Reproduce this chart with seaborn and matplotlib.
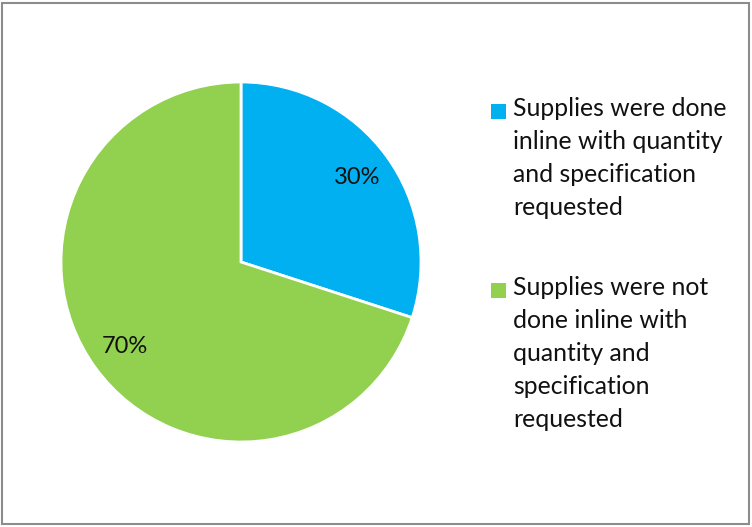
import matplotlib
matplotlib.use("Agg")
import matplotlib.pyplot as plt
from matplotlib.patches import Rectangle
import seaborn as sns

sns.set_theme(style="white")
plt.rcParams['font.family'] = ['Lato', 'DejaVu Sans']

# data
labels = ['Supplies were done\ninline with quantity\nand specification\nrequested',
          'Supplies were not\ndone inline with\nquantity and\nspecification\nrequested']
shares = [30, 70]
colors = ['#00B0F0', '#92D050']

W, H = 752, 527
fig = plt.figure(figsize=(W / 100, H / 100), dpi=100)
fig.patch.set_facecolor('white')

# pie: centre (241, 262) px, radius 180 px
cx, cy, r = 241, 262, 180
ax = fig.add_axes([(cx - r) / W, (H - cy - r) / H, 2 * r / W, 2 * r / H])
wedges, texts, autotexts = ax.pie(
    shares, colors=colors, startangle=90, counterclock=False,
    autopct='%1.0f%%', pctdistance=0.8,
    wedgeprops=dict(edgecolor='white', linewidth=2),
    textprops=dict(fontsize=17, color='#111111'))
ax.set_xlim(-1, 1)
ax.set_ylim(-1, 1)
ax.set_aspect('equal')
ax.axis('off')

# legend, drawn by hand so the marker sits on the first line
tops = [97, 276]
for lab, col, top in zip(labels, colors, tops):
    fig.patches.append(Rectangle((491 / W, 1 - (top + 22) / H), 15 / W, 15 / H,
                                 transform=fig.transFigure, facecolor=col,
                                 edgecolor='none'))
    fig.text(513 / W, 1 - top / H, lab, fontsize=17.8, va='top', ha='left',
             linespacing=1.53, color='#111111')

# chart border
fig.patches.append(Rectangle((2 / W, 3 / H), 747 / W, 521 / H,
                             transform=fig.transFigure, fill=False,
                             edgecolor='#8c8c8c', linewidth=1.5))

fig.savefig('out.png', dpi=100)
